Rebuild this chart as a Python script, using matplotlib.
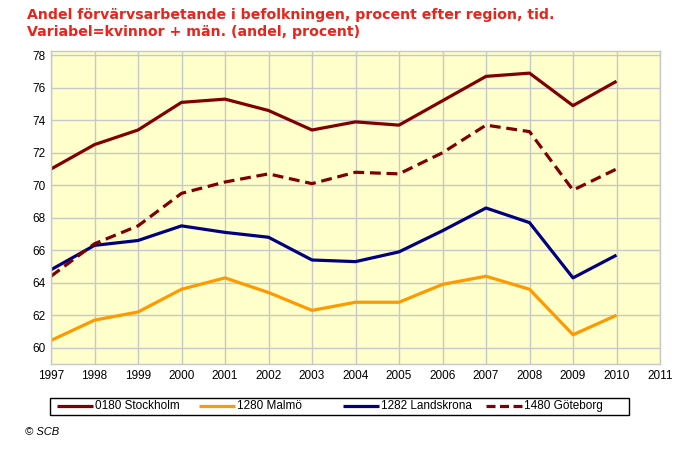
import matplotlib
matplotlib.use("Agg")
import matplotlib.pyplot as plt
from matplotlib.lines import Line2D
from matplotlib.patches import Rectangle

plt.rcParams['font.family'] = ['Liberation Sans', 'DejaVu Sans']

years = list(range(1997, 2011))
stockholm = [71.0, 72.5, 73.4, 75.1, 75.3, 74.6, 73.4, 73.9, 73.7, 75.2, 76.7, 76.9, 74.9, 76.4]
malmo = [60.45, 61.7, 62.2, 63.6, 64.3, 63.4, 62.3, 62.8, 62.8, 63.9, 64.4, 63.6, 60.8, 62.0]
landskrona = [64.8, 66.3, 66.6, 67.5, 67.1, 66.8, 65.4, 65.3, 65.9, 67.2, 68.6, 67.7, 64.3, 65.7]
goteborg = [64.4, 66.4, 67.5, 69.5, 70.2, 70.7, 70.1, 70.8, 70.7, 72.0, 73.7, 73.3, 69.7, 71.0]

labels = ["0180 Stockholm", "1280 Malmö", "1282 Landskrona", "1480 Göteborg"]
series = [stockholm, malmo, landskrona, goteborg]
colors = ["#800000", "#FF9900", "#000080", "#800000"]
styles = ["-", "-", "-", (0, (3.4, 1.8))]

title = "Andel förvärvsarbetande i befolkningen, procent efter region, tid.\nVariabel=kvinnor + män. (andel, procent)"

W, H = 697, 453
fig = plt.figure(figsize=(W / 100, H / 100), dpi=100)
ax = fig.add_axes([51 / W, 89 / H, 609 / W, (364 - 50.7) / H])
ax.set_facecolor("#FFFFCC")

for y, c, ls, lab in zip(series, colors, styles, labels):
    ax.plot(years, y, color=c, linestyle=ls, linewidth=2.3, label=lab,
            solid_capstyle='butt', dash_capstyle='butt')

ax.set_xlim(1997, 2011)
ax.set_ylim(59.0, 78.28)
ax.set_xticks(range(1997, 2012))
ax.set_yticks(range(60, 79, 2))
ax.grid(True, color="#C8C8C8", linewidth=1.0)
ax.set_axisbelow(True)
for s in ax.spines.values():
    s.set_color("#C8C8C8")
    s.set_linewidth(1.0)
ax.tick_params(length=0, labelsize=8.5, colors="#000000", pad=4)

fig.text(27 / W, 1 - 15 / H, title.split("\n")[0], color="#E8251C", fontsize=10.2,
         fontweight="bold", va="center", ha="left", family=["DejaVu Sans"])
fig.text(27 / W, 1 - 32 / H, title.split("\n")[1], color="#E8251C", fontsize=10.2,
         fontweight="bold", va="center", ha="left", family=["DejaVu Sans"])

# legend box (manual, to match the fixed column layout)
fig.patches.append(Rectangle((50 / W, 1 - 415 / H), 579 / W, 17.5 / H,
                             transform=fig.transFigure, facecolor="white",
                             edgecolor="black", linewidth=1.0))
starts = [57, 199, 343, 486]
ly = 1 - 406 / H
for x0, c, ls, lab in zip(starts, colors, styles, labels):
    fig.lines.append(Line2D([x0 / W, (x0 + 35.5) / W], [ly, ly], transform=fig.transFigure,
                            color=c, linestyle=ls if ls == "-" else (0, (2.82, 1.41)),
                            linewidth=2.3, solid_capstyle='butt', dash_capstyle='butt'))
    fig.text((x0 + 38) / W, ly, lab, fontsize=8.5, va="center", ha="left")

fig.text(25 / W, 1 - 432 / H, "© SCB", fontsize=8, style="italic", va="center", ha="left")

fig.savefig("out.png", dpi=100)
